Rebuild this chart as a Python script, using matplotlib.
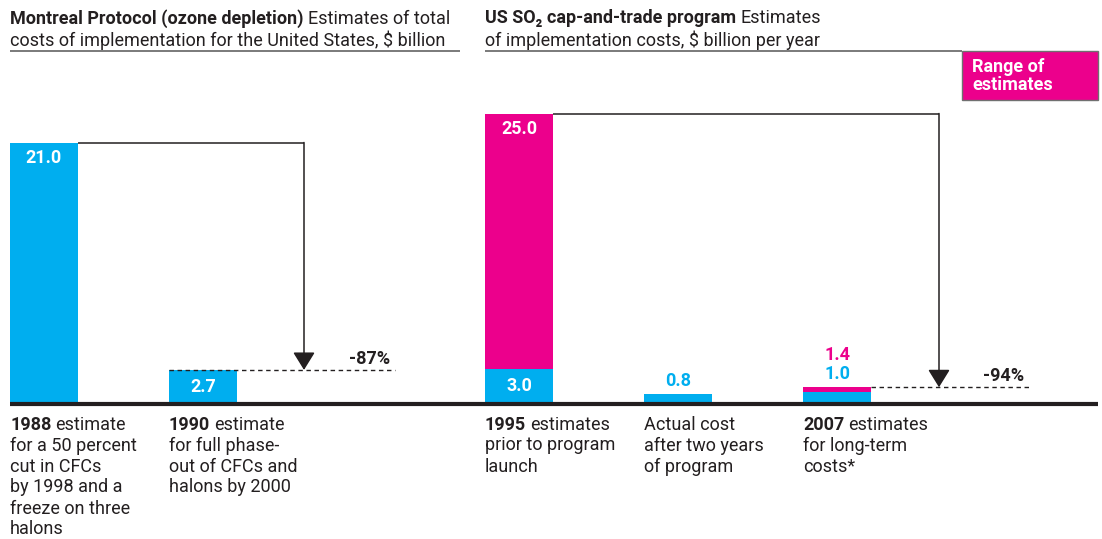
import matplotlib
matplotlib.use('Agg')
import matplotlib.pyplot as plt
from matplotlib.patches import Rectangle

# ---------------- data ----------------
mp_positions = [0, 1]
mp_values = [21.0, 2.7]
mp_value_labels = ['21.0', '2.7']
mp_bold = ['1988', '1990']
mp_lines = [['estimate', 'for a 50 percent', 'cut in CFCs', 'by 1998 and a',
             'freeze on three', 'halons'],
            ['estimate', 'for full phase-', 'out of CFCs and', 'halons by 2000']]
mp_change = '-87%'

so2_positions = [0, 1, 2]
so2_low = [3.0, 0.8, 1.0]
so2_high = [25.0, None, 1.4]
so2_bold = ['1995', '', '2007']
so2_lines = [['estimates', 'prior to program', 'launch'],
             ['Actual cost', 'after two years', 'of program'],
             ['estimates', 'for long-term', 'costs*']]
so2_change = '-94%'

mp_title_bold = 'Montreal Protocol (ozone depletion)'
mp_title_rest = 'Estimates of total'
mp_title_line2 = 'costs of implementation for the United States, $ billion'
so2_title_bold = 'US SO\u2082 cap-and-trade program'
so2_title_rest = 'Estimates'
so2_title_line2 = 'of implementation costs, $ billion per year'
legend_label = 'Range of\nestimates'

# ---------------- style ----------------
W, H, DPI = 1102, 539, 100
BLUE = '#00AEEF'
PINK = '#EC008C'
DARK = '#231F20'
GREY = '#707070'
FONT = ['Roboto', 'DejaVu Sans']
FS = 13.0
PT = 0.72  # points per pixel
plt.rcParams['font.family'] = FONT

fig = plt.figure(figsize=(W / DPI, H / DPI), dpi=DPI)

UNIT = 159.0   # px per category
BW = 68.0 / UNIT
BASE = 403.5
TOP = 60.0


def fx(px):
    return px / W


def fy(py):
    return 1 - py / H


# overlay axes in pixel coordinates for layout text
ov = fig.add_axes([0, 0, 1, 1])
ov.set_xlim(0, W)
ov.set_ylim(H, 0)
ov.axis('off')
ov.set_zorder(5)


def panel(x0, x1, px_per_unit):
    ax = fig.add_axes([fx(x0), fy(BASE), fx(x1 - x0), (BASE - TOP) / H])
    ax.set_xlim(-BW / 2, -BW / 2 + (x1 - x0) / UNIT)
    ax.set_ylim(0, (BASE - TOP) / px_per_unit)
    ax.axis('off')
    return ax


axL = panel(10, 460, 261 / 21.0)
axR = panel(485, 1098, 290 / 25.0)


def mixed(ax, x, y, bold, rest, dy_px, color=DARK, xycoords='data', size=FS):
    """Bold run followed by regular run on the same line; top aligned at dy_px below."""
    if bold:
        t = ax.annotate(bold, xy=(x, y), xycoords=xycoords,
                        xytext=(0, -dy_px * PT), textcoords='offset points',
                        ha='left', va='top', fontsize=size, fontweight='bold',
                        color=color, annotation_clip=False)
        if rest:
            ax.annotate(rest, xy=(1, 0), xycoords=t, xytext=(4 * PT, 0),
                        textcoords='offset points', ha='left', va='bottom',
                        fontsize=size, color=color, annotation_clip=False)
    else:
        ax.annotate(rest, xy=(x, y), xycoords=xycoords,
                    xytext=(0, -dy_px * PT), textcoords='offset points',
                    ha='left', va='top', fontsize=size, color=color,
                    annotation_clip=False)


def category_labels(ax, positions, bolds, lines):
    for p, b, ls in zip(positions, bolds, lines):
        xl = p - BW / 2
        if b:
            mixed(ax, xl, 0, b, ls[0], 12)
            rest = ls[1:]
            start = 1
        else:
            rest = ls
            start = 0
        for k, line in enumerate(rest):
            ax.annotate(line, xy=(xl, 0), xycoords='data',
                        xytext=(0, -(12 + 21 * (k + start)) * PT),
                        textcoords='offset points', ha='left', va='top',
                        fontsize=FS, color=DARK, annotation_clip=False)


def connector(ax, x_from, y_top, x_arrow, y_end):
    ax.plot([x_from, x_arrow], [y_top, y_top], color=DARK, lw=1.1,
            solid_capstyle='butt', clip_on=False)
    ax.annotate('', xy=(x_arrow, y_end), xytext=(x_arrow, y_top),
                arrowprops=dict(arrowstyle='-|>,head_length=0.55,head_width=0.34',
                                mutation_scale=20, color=DARK, lw=1.1,
                                shrinkA=0, shrinkB=0),
                annotation_clip=False)


def dashed(ax, x0, x1, y):
    ax.plot([x0, x1], [y, y], color=DARK, lw=1.0, ls=(0, (3.2, 2.6)),
            clip_on=False)


# ---------------- left panel ----------------
axL.bar(mp_positions, mp_values, width=BW, color=BLUE, linewidth=0)
axL.annotate(mp_value_labels[0], xy=(mp_positions[0], mp_values[0]),
             xytext=(0, -15 * PT), textcoords='offset points', ha='center',
             va='center', color='white', fontsize=FS, fontweight='bold')
axL.annotate(mp_value_labels[1], xy=(mp_positions[1], mp_values[1] / 2),
             ha='center', va='center', color='white', fontsize=FS,
             fontweight='bold')
arrowL = mp_positions[0] - BW / 2 + (304 - 10) / UNIT
connector(axL, mp_positions[0] + BW / 2, mp_values[0], arrowL, mp_values[1])
dashed(axL, mp_positions[1] - BW / 2, mp_positions[0] - BW / 2 + (395 - 10) / UNIT,
       mp_values[1])
axL.annotate(mp_change, xy=(mp_positions[0] - BW / 2 + (349 - 10) / UNIT, mp_values[1]),
             xytext=(0, 11 * PT), textcoords='offset points', ha='left',
             va='center', fontsize=FS, fontweight='bold', color=DARK)
category_labels(axL, mp_positions, mp_bold, mp_lines)

# ---------------- right panel ----------------
axR.bar(so2_positions, so2_low, width=BW, color=BLUE, linewidth=0)
for p, lo, hi in zip(so2_positions, so2_low, so2_high):
    if hi is not None:
        axR.bar(p, hi - lo, bottom=lo, width=BW, color=PINK, linewidth=0)

axR.annotate(f'{so2_high[0]:.1f}', xy=(so2_positions[0], so2_high[0]),
             xytext=(0, -15 * PT), textcoords='offset points', ha='center',
             va='center', color='white', fontsize=FS, fontweight='bold')
axR.annotate(f'{so2_low[0]:.1f}', xy=(so2_positions[0], so2_low[0] / 2),
             ha='center', va='center', color='white', fontsize=FS,
             fontweight='bold')
axR.annotate(f'{so2_low[1]:.1f}', xy=(so2_positions[1], so2_low[1]),
             xytext=(0, 13 * PT), textcoords='offset points', ha='center',
             va='center', color=BLUE, fontsize=FS, fontweight='bold')
axR.annotate(f'{so2_low[2]:.1f}', xy=(so2_positions[2], so2_high[2]),
             xytext=(0, 13 * PT), textcoords='offset points', ha='center',
             va='center', color=BLUE, fontsize=FS, fontweight='bold')
axR.annotate(f'{so2_high[2]:.1f}', xy=(so2_positions[2], so2_high[2]),
             xytext=(0, 32 * PT), textcoords='offset points', ha='center',
             va='center', color=PINK, fontsize=FS, fontweight='bold')

arrowR = so2_positions[0] - BW / 2 + (939 - 485) / UNIT
connector(axR, so2_positions[0] + BW / 2, so2_high[0], arrowR, so2_high[2])
dashed(axR, so2_positions[2] + BW / 2, so2_positions[0] - BW / 2 + (1030 - 485) / UNIT,
       so2_high[2])
axR.annotate(so2_change, xy=(so2_positions[0] - BW / 2 + (983 - 485) / UNIT, so2_high[2]),
             xytext=(0, 11 * PT), textcoords='offset points', ha='left',
             va='center', fontsize=FS, fontweight='bold', color=DARK)
category_labels(axR, so2_positions, so2_bold, so2_lines)

# ---------------- baseline and title rules ----------------
ov.plot([10, 1098], [BASE, BASE], color=DARK, lw=3.0, solid_capstyle='butt')
ov.plot([10, 460], [51, 51], color=GREY, lw=1.3, solid_capstyle='butt')
ov.plot([485, 962], [51, 51], color=GREY, lw=1.3, solid_capstyle='butt')

# titles
mixed(ov, 10, 9, mp_title_bold, mp_title_rest, 0)
mixed(ov, 10, 30, '', mp_title_line2, 0)
mixed(ov, 485, 9, so2_title_bold, so2_title_rest, 0)
mixed(ov, 485, 30, '', so2_title_line2, 0)

# legend box
ov.add_patch(Rectangle((962, 51), 1098 - 962, 100 - 51, facecolor=PINK,
                       edgecolor=GREY, lw=1.0))
ov.text(972, 76, legend_label, ha='left', va='center', color='white',
        fontsize=FS, fontweight='bold', linespacing=0.95)

fig.savefig('out.png', dpi=DPI)
